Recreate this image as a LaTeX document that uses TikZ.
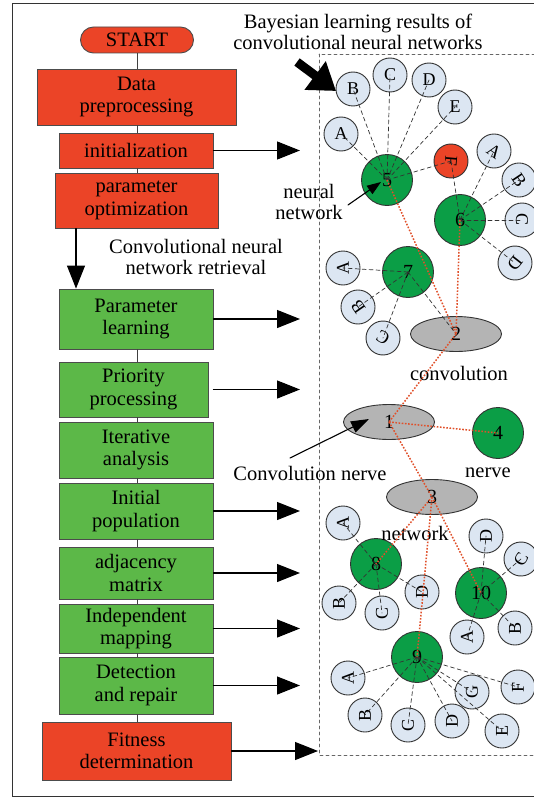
\documentclass[tikz,border=0pt]{standalone}
\usepackage{fontspec}
\setmainfont{Liberation Serif}
\usetikzlibrary{shapes.geometric,arrows.meta}
\definecolor{boxred}{HTML}{EB4427}
\definecolor{boxgreen}{HTML}{5CB848}
\definecolor{hubgreen}{HTML}{0B9E46}
\definecolor{leafblue}{HTML}{DCE6F2}
\definecolor{ellgray}{HTML}{B4B4B4}
\definecolor{linkred}{HTML}{E0502A}

\begin{document}
\begin{tikzpicture}[x=1pt, y=-1pt, line cap=round]
  % styles
  \tikzset{
    box/.style={draw=black!70, line width=0.9pt, align=center, inner sep=0pt,
      font=\fontsize{20.5}{22.5}\selectfont},
    redbox/.style={box, fill=boxred},
    greenbox/.style={box, fill=boxgreen},
    hub/.style={circle, draw=black!80, fill=hubgreen, line width=0.9pt,
      minimum size=51, inner sep=0pt, font=\fontsize{20}{22}\selectfont},
    leaf/.style={circle, draw=black!80, fill=leafblue, line width=0.9pt,
      minimum size=34, inner sep=0pt, font=\fontsize{18}{20}\selectfont},
    oval/.style={ellipse, draw=black!80, fill=ellgray, line width=0.9pt,
      minimum width=91, minimum height=35, inner sep=0pt, font=\fontsize{20}{22}\selectfont},
    lbl/.style={align=center, inner sep=0pt, font=\fontsize{20.5}{21}\selectfont},
    link/.style={line width=0.9pt, draw=black!75},
    bigarrow/.style={line width=1.1pt, -{Triangle[length=23pt,width=18pt]}},
    ptr/.style={line width=1.1pt, -{Triangle[length=14pt,width=10pt]}},
    leafedge/.style={draw=black!80, dash pattern=on 4pt off 3pt, line width=0.7pt},
    rededge/.style={draw=linkred, dash pattern=on 1.6pt off 1.6pt, line width=1.5pt, line cap=butt}
  }
  \useasboundingbox (0,0) rectangle (533,797);
  % frames
  \draw[line width=1pt, draw=black!80] (12,4) rectangle (545,796);
  \draw[dashed, draw=black!60, line width=0.8pt] (319,54) rectangle (545,755);

  % flow chart
  \node[redbox, rounded corners=13, minimum width=113, minimum height=26] (start) at (137,40) {START};
  \node[redbox, minimum width=199, minimum height=56] (prep) at (136.5,97) {Data\\preprocessing};
  \node[redbox, minimum width=154, minimum height=35] (init) at (136,150.5) {initialization};
  \node[redbox, minimum width=163, minimum height=55] (paropt) at (136.5,200.5) {parameter\\optimization};
  \node[greenbox, minimum width=154, minimum height=60] (parlearn) at (136,319) {Parameter\\learning};
  \node[greenbox, minimum width=149, minimum height=55] (prio) at (133.5,389.5) {Priority\\processing};
  \node[greenbox, minimum width=154, minimum height=56] (iter) at (136,450) {Iterative\\analysis};
  \node[greenbox, minimum width=154, minimum height=56] (initpop) at (136,511) {Initial\\population};
  \node[greenbox, minimum width=154, minimum height=52] (adj) at (136,573) {adjacency\\matrix};
  \node[greenbox, minimum width=154, minimum height=49] (indep) at (136,628.5) {Independent\\mapping};
  \node[greenbox, minimum width=154, minimum height=57] (detect) at (136,685.5) {Detection\\and repair};
  \node[redbox, minimum width=189, minimum height=58] (fitness) at (136.5,751) {Fitness\\determination};

  \coordinate (xline) at (137,0);
  \coordinate (downx) at (76,0);
  \coordinate (tipx) at (300,0);
  \coordinate (gridx) at (318,0);
  \foreach \a/\b in {start/prep, prep/init, init/paropt, parlearn/prio, prio/iter,
      iter/initpop, initpop/adj, adj/indep, indep/detect, detect/fitness}
    \draw[link] (\a.south -| xline) -- (\b.north -| xline);
  \draw[bigarrow] (paropt.south -| downx) -- (parlearn.north -| downx);
  \foreach \b in {init, parlearn, initpop, adj, indep, detect}
    \draw[bigarrow] (\b.east) -- (\b.east -| tipx);
  \draw[bigarrow] ([xshift=5]prio.east) -- (prio.east -| tipx);
  \draw[bigarrow] (fitness.east) -- (fitness.east -| gridx);

  % labels
  \node[lbl] (title) at (358,32) {Bayesian learning results of\\convolutional neural networks};
  \node[lbl] (retr) at (196,257) {Convolutional neural\\network retrieval};
  \node[lbl] (nnlbl) at (309,202) {neural\\network};
  \node[lbl] (convlbl) at (459,373) {convolution};
  \node[lbl] (nervelbl) at (488,473) {nerve};
  \node[lbl] (cnlbl) at (310,473) {Convolution nerve};

  % network
  \node[hub] (n5) at (387,180) {5};
  \node[hub] (n6) at (460,220) {6};
  \node[hub] (n7) at (408,272) {7};
  \node[hub] (n4) at (498,433) {4};
  \node[hub] (n8) at (376,564) {8};
  \node[hub] (n10) at (481,593) {10};
  \node[hub] (n9) at (417,657) {9};
  \node[oval] (n2) at (456,334) {2};
  \node[oval] (n1) at (389,422) {1};
  \node[oval] (n3) at (432,497) {3};
  \node[lbl] (netlbl) at (415,533) {network};

  \foreach \l/\x/\y/\r in {A/341/134/0, B/353/89/0, C/390/75/0, D/429/80/0, E/455/107/0}
    \node[leaf, rotate=\r] (n5\l) at (\x,\y) {\l};
  \node[leaf, fill=boxred, rotate=-95] (n5F) at (451,161) {F};
  \foreach \l/\x/\y/\r in {A/494/151/-35, B/519/180/-56, C/522/220/-90, D/515/263/-128}
    \node[leaf, rotate=\r] (n6\l) at (\x,\y) {\l};
  \foreach \l/\x/\y/\r in {A/343/268/90, B/358/307/125, C/383/338/150}
    \node[leaf, rotate=\r] (n7\l) at (\x,\y) {\l};
  \foreach \l/\x/\y/\r in {A/343/523/90, B/339/603/90, C/382/613/90, D/422/592/90}
    \node[leaf, rotate=\r] (n8\l) at (\x,\y) {\l};
  \foreach \l/\x/\y/\r in {D/486/536/90, C/521/559/60, A/467/637/90, B/515/628/90}
    \node[leaf, rotate=\r] (n10\l) at (\x,\y) {\l};
  \foreach \l/\x/\y/\r in {A/348/678/90, B/365/715/90, C/408/725/90, D/452/721/90,
      E/502/731/90, F/518/687/90, G/472/692/90}
    \node[leaf, rotate=\r] (n9\l) at (\x,\y) {\l};

  % dashed links
  \foreach \l in {A,B,C,D,E,F}
    \draw[leafedge] (n5.center) -- (n5\l.center);
  \draw[leafedge] (n5F.center) -- (n6.center);
  \foreach \l in {A,B,C,D}
    \draw[leafedge] (n6.center) -- (n6\l.center);
  \foreach \l in {A,B,C}
    \draw[leafedge] (n7.center) -- (n7\l.center);
  \draw[leafedge] (n7.center) -- (n2.center);
  \foreach \l in {A,B,C,D}
    \draw[leafedge] (n8.center) -- (n8\l.center);
  \foreach \l in {A,B,C,D}
    \draw[leafedge] (n10.center) -- (n10\l.center);
  \foreach \l in {A,B,C,D,E,F,G}
    \draw[leafedge] (n9.center) -- (n9\l.center);

  % red links
  \foreach \a/\b in {n5/n2, n6/n2, n2/n1, n1/n4, n1/n3, n3/n8, n3/n9, n3/n10}
    \draw[rededge] (\a.center) -- (\b.center);

  % pointers
  \coordinate (bigtail) at (297,62);
  \coordinate (bigtip) at (336,91);
  \draw[line width=9pt, line cap=butt, -{Triangle[length=26pt,width=34pt]}] (bigtail) -- (bigtip);
  \coordinate (nntail) at (348,205);
  \coordinate (nntip) at (381,182);
  \draw[ptr] (nntail) -- (nntip);
  \coordinate (cntail) at (290,458);
  \coordinate (cntip) at (369,419);
  \draw[ptr, -{Triangle[length=18pt,width=12pt]}] (cntail) -- (cntip);
\end{tikzpicture}
\end{document}
